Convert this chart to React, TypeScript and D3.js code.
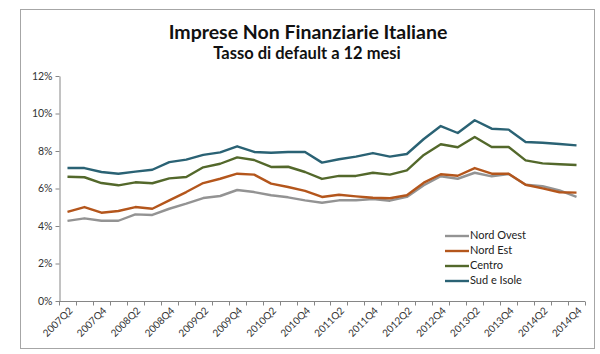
import { useEffect, useRef } from "react";
import * as d3 from "d3";

const quarters: string[] = [];
for (let y = 2007; y <= 2014; y++) {
  for (let q = 1; q <= 4; q++) {
    if (y === 2007 && q === 1) continue;
    quarters.push(`${y}Q${q}`);
  }
}

const nordOvest = [4.27, 4.41, 4.28, 4.28, 4.62, 4.59, 4.92, 5.19, 5.49, 5.6, 5.92, 5.81, 5.64, 5.53, 5.37, 5.24,
  5.37, 5.37, 5.44, 5.35, 5.55, 6.17, 6.65, 6.52, 6.84, 6.65, 6.77, 6.2, 6.12, 5.9, 5.55];
const nordEst = [4.75, 5.01, 4.71, 4.8, 5.01, 4.92, 5.37, 5.81, 6.29, 6.52, 6.79, 6.74, 6.26, 6.08, 5.87, 5.55,
  5.67, 5.58, 5.51, 5.48, 5.64, 6.31, 6.76, 6.68, 7.09, 6.79, 6.79, 6.2, 6.01, 5.8, 5.78];
const centro = [6.63, 6.6, 6.29, 6.17, 6.33, 6.28, 6.54, 6.61, 7.13, 7.32, 7.66, 7.52, 7.15, 7.16, 6.88, 6.51,
  6.67, 6.67, 6.84, 6.74, 6.97, 7.79, 8.36, 8.2, 8.75, 8.21, 8.21, 7.5, 7.34, 7.29, 7.25];
const sudIsole = [7.09, 7.09, 6.88, 6.79, 6.9, 7.0, 7.41, 7.54, 7.79, 7.93, 8.25, 7.95, 7.91, 7.95, 7.95, 7.38,
  7.56, 7.7, 7.89, 7.7, 7.84, 8.64, 9.33, 8.96, 9.64, 9.19, 9.14, 8.48, 8.44, 8.37, 8.3];

const series = [
  { name: "Nord Ovest", values: nordOvest, color: "#939393" },
  { name: "Nord Est", values: nordEst, color: "#b4561c" },
  { name: "Centro", values: centro, color: "#53682b" },
  { name: "Sud e Isole", values: sudIsole, color: "#2a6274" },
];

const yTicks = [0, 2, 4, 6, 8, 10, 12];

export default function App() {
  const svgRef = useRef<SVGSVGElement>(null);

  useEffect(() => {
    if (!svgRef.current) return;
    const svg = d3.select(svgRef.current);
    svg.selectAll("*").remove();
    const font = "Lato, 'Open Sans', sans-serif";

    // outer frame
    svg.append("rect")
      .attr("x", 20.5).attr("y", 9.5)
      .attr("width", 574).attr("height", 339)
      .attr("fill", "#fff").attr("stroke", "#a6a6a6").attr("stroke-width", 1);

    svg.append("text")
      .attr("x", 308).attr("y", 38.5)
      .attr("text-anchor", "middle")
      .attr("font-family", font).attr("font-weight", "bold").attr("font-size", 19.5)
      .attr("fill", "#111")
      .text("Imprese Non Finanziarie Italiane");
    svg.append("text")
      .attr("x", 307).attr("y", 59)
      .attr("text-anchor", "middle")
      .attr("font-family", font).attr("font-weight", "bold").attr("font-size", 16.5)
      .attr("fill", "#111")
      .text("Tasso di default a 12 mesi");

    const x = d3.scaleBand<string>().domain(quarters).range([59, 585]).padding(0);
    const y = d3.scaleLinear().domain([0, 12]).range([301, 76]);
    const bw = x.bandwidth();

    const yAxis = d3.axisLeft<number>(y).tickValues(yTicks).tickFormat(d => `${d}%`).tickSize(4).tickSizeOuter(0);
    const gy = svg.append("g").attr("transform", "translate(59.5,0)").call(yAxis);
    gy.select(".domain").attr("stroke", "#868686");
    gy.selectAll("line").attr("stroke", "#868686");
    gy.selectAll("text").attr("fill", "#333").attr("font-size", 10.5).attr("font-family", font).attr("x", -7);

    // x axis with ticks at band boundaries
    const gx = svg.append("g").attr("transform", "translate(0,301.5)");
    gx.append("line").attr("x1", 59).attr("x2", 585).attr("stroke", "#868686");
    const bounds = quarters.map(q => x(q) as number).concat([585]);
    gx.selectAll("line.tick").data(bounds).enter().append("line")
      .attr("x1", d => Math.round(d) + 0.5).attr("x2", d => Math.round(d) + 0.5)
      .attr("y1", 0).attr("y2", 4).attr("stroke", "#868686");
    gx.selectAll("text").data(quarters.filter((_, i) => i % 2 === 0)).enter().append("text")
      .attr("transform", d => `translate(${(x(d) as number) + bw / 2 + 4},${8}) rotate(-45)`)
      .attr("text-anchor", "end")
      .attr("dominant-baseline", "middle")
      .attr("font-family", font).attr("font-size", 10).attr("fill", "#333")
      .text(d => d);

    const line = d3.line<number>()
      .x((_, i) => (x(quarters[i]) as number) + bw / 2)
      .y(d => y(d));

    svg.selectAll("path.series").data(series).enter().append("path")
      .attr("fill", "none")
      .attr("stroke", d => d.color)
      .attr("stroke-width", 2.4)
      .attr("stroke-linejoin", "round")
      .attr("d", d => line(d.values));

    // legend
    const lg = svg.append("g");
    series.forEach((s, i) => {
      const ly = 236 + i * 15;
      lg.append("line").attr("x1", 445).attr("x2", 469).attr("y1", ly).attr("y2", ly)
        .attr("stroke", s.color).attr("stroke-width", 2.4);
      lg.append("text").attr("x", 470).attr("y", ly).attr("dominant-baseline", "middle")
        .attr("font-family", font).attr("font-size", 11).attr("fill", "#222").text(s.name);
    });
  }, []);

  return (
    <svg ref={svgRef} width={600} height={354} style={{ position: "absolute", left: 0, top: 0, background: "#fff" }}></svg>
  );
}
